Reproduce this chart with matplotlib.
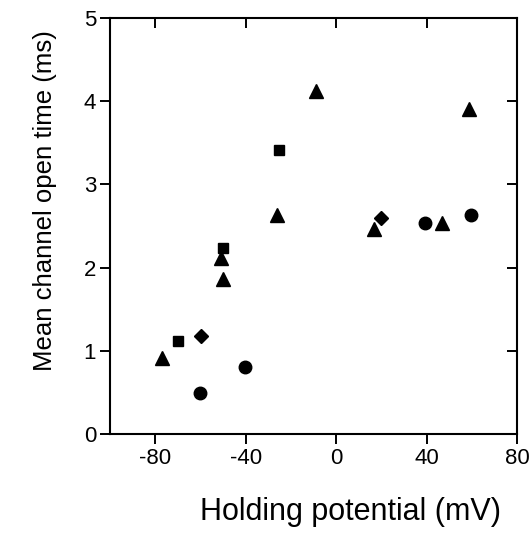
import matplotlib
matplotlib.use("Agg")
import matplotlib.pyplot as plt

# Mean channel open time vs holding potential, grouped by marker type
tri_x = [-77, -50.8, -49.8, -26.2, -8.8, 16.8, 46.7, 58.8]
tri_y = [0.91, 2.11, 1.86, 2.63, 4.12, 2.46, 2.54, 3.91]
sq_x = [-70.0, -49.8, -25.2]
sq_y = [1.12, 2.23, 3.41]
dia_x = [-59.8, 19.8]
dia_y = [1.18, 2.60]
circ_x = [-60.1, -40.2, 39.4, 59.6]
circ_y = [0.49, 0.80, 2.53, 2.63]

x_ticks = [-80, -40, 0, 40, 80]
y_ticks = [0, 1, 2, 3, 4, 5]

plt.rcParams["font.family"] = ["Liberation Sans", "DejaVu Sans"]
plt.rcParams["axes.unicode_minus"] = False

fig = plt.figure(figsize=(5.3, 5.4), dpi=100)
ax = fig.add_axes([0.2075, 0.1963, 0.768, 0.7704])

ax.plot(tri_x, tri_y, "^", color="black", markersize=10.5, linestyle="none")
ax.plot(sq_x, sq_y, "s", color="black", markersize=7.5, linestyle="none")
ax.plot(dia_x, dia_y, "D", color="black", markersize=7, linestyle="none")
ax.plot(circ_x, circ_y, "o", color="black", markersize=9, linestyle="none")

ax.set_xlim(-100, 80)
ax.set_ylim(0, 5)
ax.set_xticks(x_ticks)
ax.set_yticks(y_ticks)

for s in ax.spines.values():
    s.set_linewidth(1.5)

ax.tick_params(axis="both", which="major", length=7, width=1.4, labelsize=16, direction="out", pad=3)
# inward ticks on the top and right edges
axt = ax.secondary_xaxis("top")
axt.set_xticks(x_ticks[:-1])
axt.tick_params(direction="in", length=7, width=1.4, labeltop=False)
axr = ax.secondary_yaxis("right")
axr.set_yticks(y_ticks[1:-1])
axr.tick_params(direction="in", length=7, width=1.4, labelright=False)
for sec in (axt, axr):
    for s in sec.spines.values():
        s.set_visible(False)

ax.set_xlabel("Holding potential (mV)", fontsize=22, labelpad=20, x=0.59)
ax.set_ylabel("Mean channel open time (ms)", fontsize=18.5, labelpad=19, y=0.56)

fig.savefig("out.png", dpi=100)
